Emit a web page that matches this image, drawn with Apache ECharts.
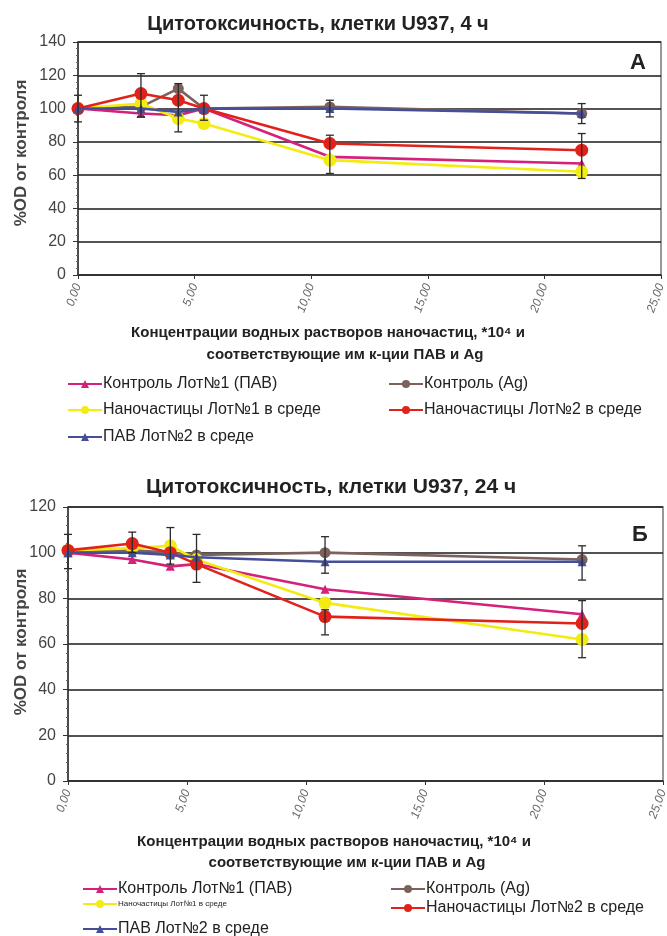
<!DOCTYPE html>
<html><head><meta charset="utf-8">
<script src="https://cdn.jsdelivr.net/npm/echarts@6/dist/echarts.min.js"></script>
<style>html,body{margin:0;padding:0;background:#fff}#c{width:667px;height:936px}</style>
</head><body><div id="c"></div>
<script>
// ---- data ----
const xConc = [0, 2.7, 4.3, 5.4, 10.8, 21.6];
const seriesNames = ['Контроль Лот№1 (ПАВ)', 'Контроль (Ag)', 'Наночастицы Лот№1 в среде', 'Наночастицы Лот№2 в среде', 'ПАВ Лот№2 в среде'];
// 4 h
const ctrl1_4h = [100, 97, 96, 100, 71, 67];
const ag_4h    = [100, 101, 112, 100, 101, 97];
const np1_4h   = [100, 103, 94, 91, 69, 62];
const np2_4h   = [100, 109, 105, 100, 79, 75];
const pav2_4h  = [100, 100, 98, 100, 100, 97];
const errX_4h  = [0, 2.7, 4.3, 5.4, 10.8, 10.8, 21.6, 21.6];
const errLo_4h = [92, 95, 86, 93, 95, 61, 91, 58];
const errHi_4h = [108, 121, 115, 108, 105, 84, 103, 85];
// 24 h
const ctrl1_24h = [100, 97, 94, 95, 84, 73];
const ag_24h    = [101, 101, 100, 99, 100, 97];
const np1_24h   = [101, 102, 103, 97, 78, 62];
const np2_24h   = [101, 104, 100, 95, 72, 69];
const pav2_24h  = [100, 100, 99, 98, 96, 96];
const errX_24h  = [0, 2.7, 4.3, 5.4, 10.8, 10.8, 21.6, 21.6];
const errLo_24h = [93, 100, 95, 87, 91, 64, 88, 54];
const errHi_24h = [108, 109, 111, 108, 107, 75, 103, 79];
const xTicks = [0, 5, 10, 15, 20, 25];
const yTicks4h = [0, 20, 40, 60, 80, 100, 120, 140];
const yTicks24h = [0, 20, 40, 60, 80, 100, 120];
const yName = '%OD от контроля';

// ---- styling ----
const FONT = "'Liberation Sans Narrow','Liberation Sans',Arial,sans-serif";
const colors = ['#d4217a', '#7d625c', '#f2ec12', '#e0221b', '#454f98'];
const symbols = ['triangle', 'circle', 'circle', 'circle', 'triangle'];
const symSizes = [9, 11, 13, 13, 9];

function zip(xs, ys) { return xs.map((x, i) => [x, ys[i]]); }

function lineSeries(values, gi) {
  return values.map((v, k) => ({
    name: seriesNames[k], type: 'line', xAxisIndex: gi, yAxisIndex: gi,
    data: zip(xConc, v), color: colors[k],
    symbol: symbols[k], symbolSize: symSizes[k],
    lineStyle: { width: 2.6, color: colors[k] },
    itemStyle: { color: colors[k] },
    z: 3 + k
  }));
}

function errSeries(xs, lo, hi, gi) {
  return {
    type: 'custom', xAxisIndex: gi, yAxisIndex: gi, z: 10,
    data: xs.map((x, i) => [x, lo[i], hi[i]]),
    encode: { x: 0, y: [1, 2] },
    silent: true,
    renderItem: function (params, api) {
      const x = api.value(0);
      const a = api.coord([x, api.value(1)]);
      const b = api.coord([x, api.value(2)]);
      const w = 4;
      const st = { stroke: '#2a2a2a', lineWidth: 1.3 };
      return { type: 'group', children: [
        { type: 'line', shape: { x1: a[0], y1: a[1], x2: b[0], y2: b[1] }, style: st },
        { type: 'line', shape: { x1: a[0] - w, y1: a[1], x2: a[0] + w, y2: a[1] }, style: st },
        { type: 'line', shape: { x1: b[0] - w, y1: b[1], x2: b[0] + w, y2: b[1] }, style: st }
      ]};
    }
  };
}

function xAxisCfg(gi) {
  return {
    type: 'value', gridIndex: gi, min: xTicks[0], max: xTicks[xTicks.length - 1], interval: xTicks[1] - xTicks[0],
    axisLine: { show: true, lineStyle: { color: '#333', width: 1.5 } },
    axisTick: { show: true, length: 4, lineStyle: { color: '#333' } },
    splitLine: { show: false },
    axisLabel: { rotate: 70, fontSize: 12, fontStyle: 'italic', color: '#666', fontFamily: FONT, margin: 9,
      formatter: v => v.toFixed(2).replace('.', ',') }
  };
}
function yAxisCfg(gi, ticks) {
  return {
    type: 'value', gridIndex: gi, min: ticks[0], max: ticks[ticks.length - 1], interval: ticks[1] - ticks[0],
    axisLine: { show: true, lineStyle: { color: '#333', width: 1.5 } },
    axisTick: { show: true, length: 5, lineStyle: { color: '#333' } },
    minorTick: { show: true, splitNumber: 5, length: 2, lineStyle: { color: '#666' } },
    splitLine: { show: true, lineStyle: { color: '#1a1a1a', width: 1.5 } },
    axisLabel: { fontSize: 16, color: '#444', fontFamily: FONT, margin: 12 }
  };
}

function legendItem(name, left, top, fs) {
  const item = { name: name };
  if (fs) item.textStyle = { fontSize: fs };
  return {
    left: left, top: top, orient: 'horizontal', itemWidth: 34, itemHeight: 10, itemGap: 2,
    data: [item], selectedMode: false,
    textStyle: { fontSize: 16, color: '#222', fontFamily: FONT, padding: [0, 0, 0, -4] }
  };
}

function txt(text, x, y, font, rot, fill) {
  return { type: 'text', x: x, y: y, rotation: rot || 0, silent: true,
    style: { text: text, font: font, fill: fill || '#222', textAlign: 'center', textVerticalAlign: 'middle' } };
}

const option = {
  animation: false,
  backgroundColor: '#fff',
  grid: [
    { left: 78, top: 42, width: 583, height: 233, show: true, borderColor: '#777', borderWidth: 1.5, backgroundColor: '#fff', outerBoundsMode: 'none', containLabel: false },
    { left: 68, top: 507, width: 595, height: 274, show: true, borderColor: '#777', borderWidth: 1.5, backgroundColor: '#fff', outerBoundsMode: 'none', containLabel: false }
  ],
  xAxis: [xAxisCfg(0), xAxisCfg(1)],
  yAxis: [yAxisCfg(0, yTicks4h), yAxisCfg(1, yTicks24h)],
  legend: [
    legendItem(seriesNames[0], 62, 371), legendItem(seriesNames[1], 383, 371),
    legendItem(seriesNames[2], 62, 397), legendItem(seriesNames[3], 383, 397),
    legendItem(seriesNames[4], 62, 424),
    legendItem(seriesNames[0], 77, 876), legendItem(seriesNames[1], 385, 876),
    legendItem(seriesNames[2], 77, 895, 8), legendItem(seriesNames[3], 385, 895),
    legendItem(seriesNames[4], 77, 916)
  ],
  graphic: [
    txt('Цитотоксичность, клетки U937, 4 ч', 318, 24, "bold 20px " + FONT),
    txt('А', 638, 63, "bold 22px " + FONT),
    txt(yName, 21, 153, "bold 17px " + FONT, Math.PI / 2, '#444'),
    txt('Концентрации водных растворов наночастиц, *10⁴ и', 328, 333, "bold 15px " + FONT),
    txt('соответствующие им к-ции ПАВ и Ag', 345, 355, "bold 15px " + FONT),
    txt('Цитотоксичность, клетки U937, 24 ч', 331, 487, "bold 21px " + FONT),
    txt('Б', 640, 535, "bold 22px " + FONT),
    txt(yName, 21, 642, "bold 17px " + FONT, Math.PI / 2, '#444'),
    txt('Концентрации водных растворов наночастиц, *10⁴ и', 334, 842, "bold 15px " + FONT),
    txt('соответствующие им к-ции ПАВ и Ag', 347, 863, "bold 15px " + FONT)
  ],
  series: [].concat(
    lineSeries([ctrl1_4h, ag_4h, np1_4h, np2_4h, pav2_4h], 0),
    [errSeries(errX_4h, errLo_4h, errHi_4h, 0)],
    lineSeries([ctrl1_24h, ag_24h, np1_24h, np2_24h, pav2_24h], 1),
    [errSeries(errX_24h, errLo_24h, errHi_24h, 1)]
  )
};
const chart = echarts.init(document.getElementById('c'), null, { renderer: 'canvas' });
chart.setOption(option);
</script></body></html>
